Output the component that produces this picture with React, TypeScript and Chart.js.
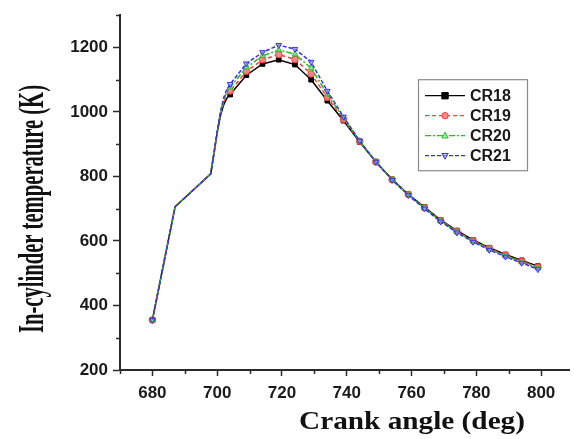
import React, { useEffect, useRef } from 'react';
import { Chart, registerables } from 'chart.js';

Chart.register(...registerables);

// ---- data ----
const crankAngles = [680, 687, 698, 699, 700, 701, 702, 703, 704, 709, 714, 719, 724, 729, 734, 739, 744, 749, 754, 759, 764, 769, 774, 779, 784, 789, 794, 799];
const cr18 = [355, 706, 808, 870, 935, 988, 1022, 1043, 1054, 1114, 1149, 1162, 1147, 1100, 1035, 973, 907, 845, 791, 745, 705, 665, 632, 603, 579, 558, 540, 522];
const cr19 = [355, 706, 808, 871, 937, 992, 1030, 1053, 1065, 1126, 1162, 1178, 1163, 1118, 1045, 977, 909, 845, 790, 744, 703, 663, 630, 601, 577, 556, 537, 519];
const cr20 = [355, 706, 808, 872, 939, 996, 1037, 1062, 1076, 1138, 1174, 1192, 1179, 1136, 1055, 981, 910, 845, 790, 743, 702, 662, 628, 599, 575, 553, 535, 516];
const cr21 = [355, 706, 808, 873, 941, 1000, 1044, 1071, 1086, 1150, 1185, 1207, 1195, 1155, 1065, 985, 910, 845, 789, 742, 700, 660, 626, 597, 572, 551, 532, 512];
const seriesNames = ['CR18', 'CR19', 'CR20', 'CR21'];
const xTickValues = [680, 700, 720, 740, 760, 780, 800];
const xMinorValues = [670, 690, 710, 730, 750, 770, 790];
const yTickValues = [200, 400, 600, 800, 1000, 1200];
const yMinorValues = [300, 500, 700, 900, 1100, 1300];
const xTitle = 'Crank angle (deg)';
const yTitle = 'In-cylinder temperature (K)';

// ---- styles ----
const AXIS = '#2a2a2a';
const styles = [
  { color: '#000000', fill: '#000000', dash: [] as number[], shape: 'rect', rot: 0 },
  { color: '#ff3b3b', fill: 'rgba(255,130,130,0.9)', dash: [4, 3], shape: 'circle', rot: 0 },
  { color: '#22c022', fill: 'rgba(150,230,150,0.7)', dash: [6, 2, 2, 2], shape: 'triangle', rot: 0 },
  { color: '#3535e0', fill: 'rgba(160,160,255,0.6)', dash: [4, 2], shape: 'triangle', rot: 180 },
];

const hasMarker = (a: number) => a === 680 || (a >= 704 && (a - 704) % 5 === 0);

function drawMarker(ctx: CanvasRenderingContext2D, shape: string, rot: number, x: number, y: number, r: number, fill: string, stroke: string) {
  ctx.save();
  ctx.fillStyle = fill;
  ctx.strokeStyle = stroke;
  ctx.lineWidth = 1;
  ctx.setLineDash([]);
  ctx.beginPath();
  if (shape === 'rect') {
    ctx.rect(x - r, y - r, 2 * r, 2 * r);
  } else if (shape === 'circle') {
    ctx.arc(x, y, r, 0, Math.PI * 2);
  } else {
    const s = rot === 180 ? -1 : 1;
    ctx.moveTo(x, y - s * r * 1.1);
    ctx.lineTo(x + r, y + s * r * 0.7);
    ctx.lineTo(x - r, y + s * r * 0.7);
    ctx.closePath();
  }
  ctx.fill();
  ctx.stroke();
  ctx.restore();
}

const decorPlugin = {
  id: 'decor',
  afterDraw(chart: any) {
    const ctx: CanvasRenderingContext2D = chart.ctx;
    const xs = chart.scales.x;
    const ys = chart.scales.y;
    const ca = chart.chartArea;
    ctx.save();
    // minor ticks
    ctx.strokeStyle = AXIS;
    ctx.lineWidth = 1.5;
    ctx.beginPath();
    for (const v of yMinorValues) {
      const p = Math.round(ys.getPixelForValue(v)) + 0.5;
      ctx.moveTo(ca.left - 4, p);
      ctx.lineTo(ca.left, p);
    }
    for (const v of xMinorValues) {
      const p = Math.round(xs.getPixelForValue(v)) + 0.5;
      ctx.moveTo(p, ca.bottom);
      ctx.lineTo(p, ca.bottom + 4);
    }
    ctx.stroke();

    // legend
    const lx = ca.left + 298;
    const ly = ca.top + 64;
    ctx.strokeStyle = '#8a8a8a';
    ctx.lineWidth = 1.2;
    ctx.strokeRect(lx + 0.5, ly + 0.5, 109, 91);
    ctx.font = 'bold 16px "Liberation Sans", Arial, sans-serif';
    ctx.textBaseline = 'middle';
    ctx.textAlign = 'left';
    seriesNames.forEach((name, i) => {
      const st = styles[i];
      const y = ly + 16.5 + i * 20;
      ctx.save();
      ctx.strokeStyle = st.color;
      ctx.lineWidth = 1.3;
      ctx.setLineDash(st.dash);
      ctx.beginPath();
      ctx.moveTo(lx + 7, y);
      ctx.lineTo(lx + 47, y);
      ctx.stroke();
      ctx.restore();
      drawMarker(ctx, st.shape, st.rot, lx + 27, y, 3.2, st.fill, st.color);
      ctx.fillStyle = '#1a1a1a';
      ctx.fillText(name, lx + 52, y + 1);
    });

    // x title
    ctx.fillStyle = '#111';
    ctx.font = 'bold 25px "Liberation Serif", "Times New Roman", serif';
    ctx.textBaseline = 'alphabetic';
    ctx.textAlign = 'center';
    const wx = ctx.measureText(xTitle).width;
    ctx.save();
    ctx.translate(412, 429);
    ctx.scale(226 / wx, 1);
    ctx.fillText(xTitle, 0, 0);
    ctx.restore();

    // y title
    ctx.font = 'bold 35px "Liberation Serif", "Times New Roman", serif';
    const wy = ctx.measureText(yTitle).width;
    ctx.save();
    ctx.translate(43, 209);
    ctx.rotate(-Math.PI / 2);
    ctx.scale(248 / wy, 1);
    ctx.fillText(yTitle, 0, 0);
    ctx.restore();

    ctx.restore();
  },
};

export default function App() {
  const ref = useRef<HTMLCanvasElement | null>(null);
  useEffect(() => {
    if (!ref.current) return;
    const seriesValues = [cr18, cr19, cr20, cr21];
    const datasets = seriesValues.map((vals, i) => {
      const st = styles[i];
      return {
        label: seriesNames[i],
        data: crankAngles.map((a, j) => ({ x: a, y: vals[j] })),
        borderColor: st.color,
        backgroundColor: st.fill,
        borderWidth: 1.5,
        borderDash: st.dash,
        pointStyle: st.shape === 'rect' ? 'rect' : st.shape === 'circle' ? 'circle' : 'triangle',
        rotation: st.rot,
        pointRadius: crankAngles.map((a) => (hasMarker(a) ? 3.3 : 0)),
        pointBorderColor: st.color,
        pointBackgroundColor: st.fill,
        pointBorderWidth: 1,
        tension: 0,
        order: 3 - i,
      };
    });
    const tickFont = { family: '"Liberation Sans", Arial, sans-serif', size: 17, weight: 'bold' as const };
    const chart = new Chart(ref.current, {
      type: 'line',
      data: { datasets },
      plugins: [decorPlugin],
      options: {
        animation: false,
        responsive: false,
        maintainAspectRatio: false,
        layout: { padding: { top: 8, left: 0, right: 0, bottom: 0 } },
        plugins: { legend: { display: false }, tooltip: { enabled: false } },
        scales: {
          x: {
            type: 'linear',
            min: 670,
            max: 808.6,
            afterBuildTicks: (s: any) => { s.ticks = xTickValues.map((v) => ({ value: v })); },
            afterFit: (s: any) => { s.height = 69; },
            ticks: { font: tickFont, color: '#1a1a1a', padding: 7, maxRotation: 0, autoSkip: false, callback: (v: any) => String(v) },
            grid: { drawOnChartArea: false, drawTicks: true, tickLength: 6, tickColor: AXIS, tickWidth: 1.5 },
            border: { display: true, color: AXIS, width: 2 },
          },
          y: {
            type: 'linear',
            min: 200,
            max: 1300,
            afterBuildTicks: (s: any) => { s.ticks = yTickValues.map((v) => ({ value: v })); },
            afterFit: (s: any) => { s.width = 120; },
            ticks: { font: tickFont, color: '#1a1a1a', padding: 5, autoSkip: false, callback: (v: any) => String(v) },
            grid: { drawOnChartArea: false, drawTicks: true, tickLength: 7, tickColor: AXIS, tickWidth: 1.5 },
            border: { display: true, color: AXIS, width: 2 },
          },
        },
      },
    } as any);
    return () => chart.destroy();
  }, []);
  return (
    <div style={{ position: 'fixed', left: 0, top: 0, width: 574, height: 439, background: '#fff' }}>
      <canvas ref={ref} width={574} height={439} style={{ display: 'block', width: 574, height: 439 }} />
    </div>
  );
}
